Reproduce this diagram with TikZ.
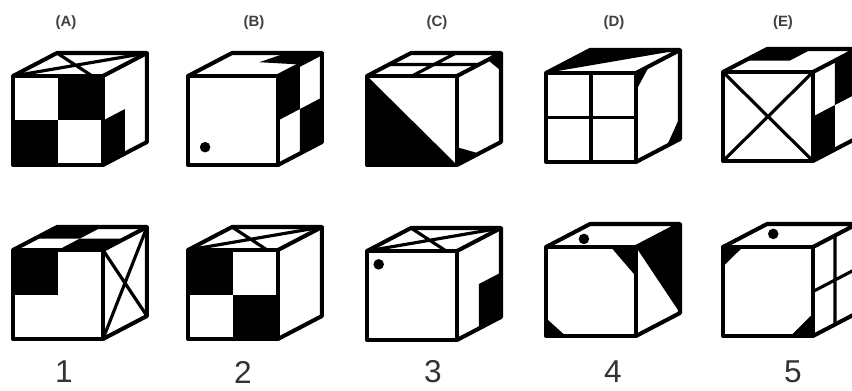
\documentclass[tikz,border=0pt]{standalone}
\usepackage{fontspec}
\setmainfont{Liberation Sans}
\tikzset{
    % Cube parts
    cube/.style 2 args = {shift={(#1,#2)}, x={(1.8cm,0)}, y={(0,-1.78cm)}, z={(0.88cm,0.46cm)}},
    edge/.style  = {draw=black, line width=2.3pt, line join=round},
    inner/.style = {draw=black, line width=1.8pt},
    ink/.style   = {fill=black},
    spot/.style  = {fill=black, circle, inner sep=0pt, minimum size=6pt},
    % Captions
    letter/.style = {font=\bfseries\fontsize{8.5}{10}\selectfont, text=black!75},
    number/.style = {font=\fontsize{18}{20}\selectfont, text=black!80}
}
\newcommand{\cubeframe}{
    \draw [edge] (0,0,0) -- (1,0,0) -- (1,1,0) -- (0,1,0) -- cycle;
    \draw [edge] (0,0,0) -- (0,0,1) -- (1,0,1) -- (1,0,0);
    \draw [edge] (1,0,1) -- (1,1,1) -- (1,1,0);
}
\begin{document}
\begin{tikzpicture}[x=0.02cm, y=-0.02cm]
    \useasboundingbox (0,0) rectangle (852,390);
    \clip (0,0) rectangle (852,390);
    \fill [white] (0,0) rectangle (852,390);

    % Top row
    \begin{scope}[cube={13}{76}]
        \fill [ink] (.5,0,0) rectangle (1,.5,0);
        \fill [ink] (0,.5,0) rectangle (.5,1,0);
        \fill [ink] (1,.5,0) -- (1,.5,.5) -- (1,1,.5) -- (1,1,0) -- cycle;
        \draw [inner] (0,0,0) -- (1,0,1) (.88,0,0) -- (0,0,1);
        \cubeframe
    \end{scope}
    \begin{scope}[cube={188}{76}]
        \fill [ink] (.5,0,.6) -- (1,0,.5) -- (1,0,1) -- (.6,0,1) -- cycle;
        \fill [ink] (1,0,0) -- (1,0,.5) -- (1,.5,.5) -- (1,.5,0) -- cycle;
        \fill [ink] (1,.5,.5) -- (1,.5,1) -- (1,1,1) -- (1,1,.5) -- cycle;
        \node (dotb) [spot] at (.19,.8,0) {};
        \cubeframe
    \end{scope}
    \begin{scope}[cube={367}{76}]
        \fill [ink] (0,0,0) -- (0,1,0) -- (1,1,0) -- cycle;
        \fill [ink] (1,0,.7) -- (1,0,1) -- (1,.2,1) -- cycle;
        \fill [ink] (1,.8,0) -- (1,1,0) -- (1,1,.5) -- cycle;
        \draw [inner] (.5,0,0) -- (.5,0,1) (0,0,.5) -- (1,0,.5);
        \cubeframe
    \end{scope}
    \begin{scope}[cube={546}{73}]
        \fill [ink] (0,0,0) -- (0,0,1) -- (1,0,1) -- cycle;
        \fill [ink] (1,0,0) -- (1,0,.3) -- (1,.2,0) -- cycle;
        \fill [ink] (1,.75,1) -- (1,1,1) -- (1,1,.7) -- cycle;
        \draw [inner] (.5,0,0) -- (.5,1,0) (0,.5,0) -- (1,.5,0);
        \cubeframe
    \end{scope}
    \begin{scope}[cube={723}{72}]
        \fill [ink] (0,0,.5) -- (.5,0,.5) -- (.5,0,1) -- (0,0,1) -- cycle;
        \fill [ink] (1,0,.5) -- (1,0,1) -- (1,.5,1) -- (1,.5,.5) -- cycle;
        \fill [ink] (1,.5,0) -- (1,.5,.5) -- (1,1,.5) -- (1,1,0) -- cycle;
        \draw [inner] (0,0,0) -- (1,1,0) (1,0,0) -- (0,1,0);
        \cubeframe
    \end{scope}

    % Bottom row
    \begin{scope}[cube={13}{250}]
        \fill [ink] (0,0,0) rectangle (.5,.5,0);
        \fill [ink] (0,0,.5) -- (.5,0,.5) -- (.5,0,1) -- (0,0,1) -- cycle;
        \fill [ink] (.5,0,0) -- (1,0,0) -- (1,0,.5) -- (.5,0,.5) -- cycle;
        \draw [inner] (1,0,0) -- (1,1,1) (1,1,0) -- (1,0,1);
        \cubeframe
    \end{scope}
    \begin{scope}[cube={188}{250}]
        \fill [ink] (0,0,0) rectangle (.5,.5,0);
        \fill [ink] (.5,.5,0) rectangle (1,1,0);
        \draw [inner] (0,0,0) -- (1,0,1) (.88,0,0) -- (0,0,1);
        \cubeframe
    \end{scope}
    \begin{scope}[cube={367}{251}]
        \fill [ink] (1,.5,.5) -- (1,.5,1) -- (1,1,1) -- (1,1,.5) -- cycle;
        \draw [inner] (0,0,0) -- (1,0,1) (.88,0,0) -- (0,0,1);
        \node (dot3) [spot] at (.13,.15,0) {};
        \cubeframe
    \end{scope}
    \begin{scope}[cube={546}{247}]
        \fill [ink] (1,0,0) -- (1,0,1) -- (1,1,1) -- cycle;
        \fill [ink] (.72,0,0) -- (1,0,0) -- (1,.33,0) -- cycle;
        \fill [ink] (0,.8,0) -- (0,1,0) -- (.22,1,0) -- cycle;
        \node (dot4) [spot] at (.25,0,.35) {};
        \cubeframe
    \end{scope}
    \begin{scope}[cube={723}{247}]
        \fill [ink] (0,0,0) -- (.22,0,0) -- (0,.22,0) -- cycle;
        \fill [ink] (.75,1,0) -- (1,1,0) -- (1,.75,0) -- cycle;
        \draw [inner] (1,0,.5) -- (1,1,.5) (1,.5,0) -- (1,.5,1);
        \node (dot5) [spot] at (.28,0,.57) {};
        \cubeframe
    \end{scope}

    % Captions
    \node (capa) [letter] at (66,23) {(A)};
    \node (capb) [letter] at (254,23) {(B)};
    \node (capc) [letter] at (437,23) {(C)};
    \node (capd) [letter] at (614,23) {(D)};
    \node (cape) [letter] at (783,23) {(E)};
    \node (num1) [number] at (64,372) {1};
    \node (num2) [number] at (243,372) {2};
    \node (num3) [number] at (433,372) {3};
    \node (num4) [number] at (613,372) {4};
    \node (num5) [number] at (793,372) {5};
\end{tikzpicture}
\end{document}
